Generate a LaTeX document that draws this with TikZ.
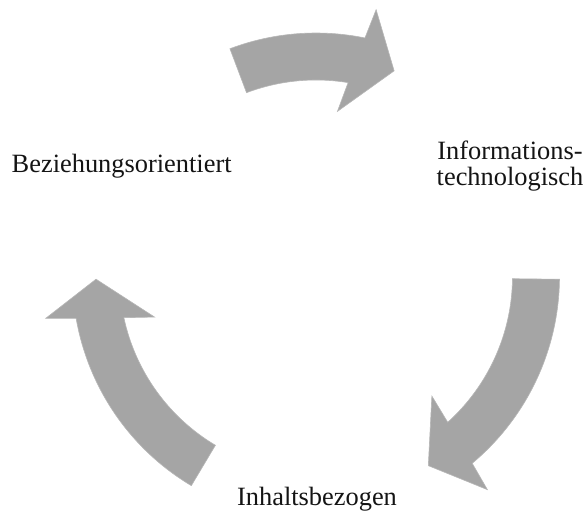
\documentclass[tikz,border=0pt]{standalone}
\usepackage{fontspec}
\setmainfont{Liberation Serif}
\usetikzlibrary{calc}

% Curved block arrow on a circle around the origin:
% #1 = angle of the tail, #2 = angle of the tip (clockwise direction).
\newcommand\cyclearrow[3]{%
  \fill[arrowfill] (#2:243.5pt)
    arc[start angle=#2, end angle={#3+9.2}, radius=243.5pt]
    -- ({#3+8.1}:273.5pt)
    -- (#3:220pt)
    -- ({#3+13.4}:166.5pt)
    -- ({#3+11.4}:196.5pt)
    arc[start angle={#3+11.4}, end angle=#2, radius=196.5pt]
    -- cycle;%
}

\definecolor{arrowgray}{RGB}{165,165,165}
\definecolor{labeltext}{RGB}{20,20,20}

\tikzset{
  arrowfill/.style={fill=arrowgray, draw=arrowgray!80!white, line width=0.6pt, line join=miter},
  label/.style={inner sep=0pt, outer sep=0pt, text=labeltext,
    font=\fontsize{26.4pt}{26pt}\selectfont}
}

\begin{document}
\begin{tikzpicture}[x=1pt,y=1pt]
  \useasboundingbox (0,0) rectangle (588,513);

  % three arrows around the common centre of the cycle
  \begin{scope}[shift={(316pt,236.5pt)}]
    \cyclearrow{top}{110.7}{69.2}
    \cyclearrow{right}{-0.65}{-59.3}
    \cyclearrow{left}{239.2}{180.7}
  \end{scope}

  % stage labels
  \node[label, anchor=base west] (bez) at (11.7,340) {Beziehungsorientiert};
  \node[label, align=center, anchor=center] (info) at (510,347) {Informations-\\technologisch};
  \node[label, anchor=base] (inh) at (317,7) {Inhaltsbezogen};
\end{tikzpicture}
\end{document}
